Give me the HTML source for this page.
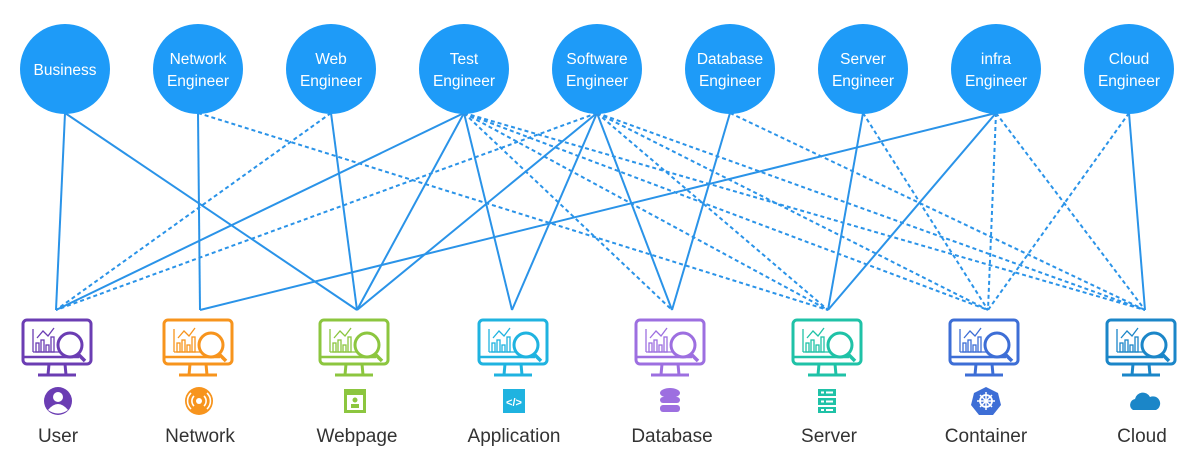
<!DOCTYPE html>
<html><head><meta charset="utf-8"><style>
html,body{margin:0;padding:0;background:#fff;}
svg{display:block;}
text{font-family:"Liberation Sans",sans-serif;}
</style></head><body>
<svg width="1200" height="475" viewBox="0 0 1200 475" xmlns="http://www.w3.org/2000/svg">
<defs>
<g id="mon" fill="none" stroke="currentColor">
  <rect x="-34" y="0" width="68" height="44" rx="4" stroke-width="3"/>
  <line x1="-34" y1="37" x2="22" y2="37" stroke-width="2.5"/>
  <line x1="-8" y1="44" x2="-9" y2="55" stroke-width="3"/>
  <line x1="8" y1="44" x2="9" y2="55" stroke-width="3"/>
  <line x1="-19" y1="55" x2="19" y2="55" stroke-width="3"/>
  <g stroke-width="1.3">
    <line x1="-24" y1="9" x2="-24" y2="32"/>
    <line x1="-24" y1="32" x2="5" y2="32"/>
    <rect x="-21" y="23" width="3" height="9"/>
    <rect x="-16" y="20" width="3" height="12"/>
    <rect x="-11" y="25" width="3" height="7"/>
    <rect x="-6" y="17" width="3" height="15"/>
    <polyline points="-20,18 -14,11 -9,16 -3,8"/>
  </g>
  <circle cx="13" cy="25" r="12" stroke-width="3" fill="#fff"/>
  <line x1="21" y1="34" x2="28" y2="41" stroke-width="3.5"/>
</g>
</defs>

<g stroke="#2a93e8" stroke-width="2" fill="none">
  <!-- solid -->
  <line x1="65" y1="113" x2="56" y2="310"/>
  <line x1="65" y1="113" x2="357" y2="310"/>
  <line x1="198" y1="113" x2="200" y2="310"/>
  <line x1="331" y1="113" x2="357" y2="310"/>
  <line x1="464" y1="113" x2="56" y2="310"/>
  <line x1="464" y1="113" x2="357" y2="310"/>
  <line x1="464" y1="113" x2="512" y2="310"/>
  <line x1="597" y1="113" x2="357" y2="310"/>
  <line x1="597" y1="113" x2="512" y2="310"/>
  <line x1="597" y1="113" x2="672" y2="310"/>
  <line x1="730" y1="113" x2="672" y2="310"/>
  <line x1="863" y1="113" x2="828" y2="310"/>
  <line x1="996" y1="113" x2="200" y2="310"/>
  <line x1="996" y1="113" x2="828" y2="310"/>
  <line x1="1129" y1="113" x2="1145" y2="310"/>
</g>
<g stroke="#2a93e8" stroke-width="2" fill="none" stroke-dasharray="4 3">
  <line x1="198" y1="113" x2="828" y2="310"/>
  <line x1="331" y1="113" x2="56" y2="310"/>
  <line x1="464" y1="113" x2="672" y2="310"/>
  <line x1="464" y1="113" x2="828" y2="310"/>
  <line x1="464" y1="113" x2="988" y2="310"/>
  <line x1="464" y1="113" x2="1145" y2="310"/>
  <line x1="597" y1="113" x2="56" y2="310"/>
  <line x1="597" y1="113" x2="828" y2="310"/>
  <line x1="597" y1="113" x2="988" y2="310"/>
  <line x1="597" y1="113" x2="1145" y2="310"/>
  <line x1="730" y1="113" x2="1145" y2="310"/>
  <line x1="863" y1="113" x2="988" y2="310"/>
  <line x1="996" y1="113" x2="988" y2="310"/>
  <line x1="996" y1="113" x2="1145" y2="310"/>
  <line x1="1129" y1="113" x2="988" y2="310"/>
</g>

<g fill="#1e9bf8">
  <circle cx="65" cy="69" r="45"/><circle cx="198" cy="69" r="45"/><circle cx="331" cy="69" r="45"/>
  <circle cx="464" cy="69" r="45"/><circle cx="597" cy="69" r="45"/><circle cx="730" cy="69" r="45"/>
  <circle cx="863" cy="69" r="45"/><circle cx="996" cy="69" r="45"/><circle cx="1129" cy="69" r="45"/>
</g>
<g fill="#fff" font-size="15.5" text-anchor="middle">
  <text x="65" y="75">Business</text>
  <text x="198" y="64">Network</text><text x="198" y="86">Engineer</text>
  <text x="331" y="64">Web</text><text x="331" y="86">Engineer</text>
  <text x="464" y="64">Test</text><text x="464" y="86">Engineer</text>
  <text x="597" y="64">Software</text><text x="597" y="86">Engineer</text>
  <text x="730" y="64">Database</text><text x="730" y="86">Engineer</text>
  <text x="863" y="64">Server</text><text x="863" y="86">Engineer</text>
  <text x="996" y="64">infra</text><text x="996" y="86">Engineer</text>
  <text x="1129" y="64">Cloud</text><text x="1129" y="86">Engineer</text>
</g>

<use href="#mon" x="57" y="320" style="color:#6b3db3"/>
<use href="#mon" x="198" y="320" style="color:#f7941d"/>
<use href="#mon" x="354" y="320" style="color:#8cc63f"/>
<use href="#mon" x="513" y="320" style="color:#1fb3e0"/>
<use href="#mon" x="670" y="320" style="color:#9d6fe0"/>
<use href="#mon" x="827" y="320" style="color:#1fc2a7"/>
<use href="#mon" x="984" y="320" style="color:#3d6ed6"/>
<use href="#mon" x="1141" y="320" style="color:#1b86c8"/>

<!-- small icons -->
<circle cx="58" cy="401" r="14" fill="#6b3db3"/>
<circle cx="58" cy="397" r="5" fill="#fff"/>
<path d="M48 410 Q58 398 68 410 Q58 417 48 410Z" fill="#fff"/>
<circle cx="199" cy="401" r="14" fill="#f7941d"/>
<circle cx="199" cy="401" r="3" fill="#fff"/>
<g fill="none" stroke="#fff" stroke-width="1.6"><path d="M194 396 a7 7 0 0 0 0 10"/><path d="M204 396 a7 7 0 0 1 0 10"/><path d="M191 393 a11 11 0 0 0 0 16"/><path d="M207 393 a11 11 0 0 1 0 16"/></g>
<rect x="344" y="389" width="22" height="24" fill="#8cc63f"/>
<rect x="347" y="395" width="16" height="15" fill="#fff"/>
<circle cx="355" cy="400" r="2.5" fill="#8cc63f"/><rect x="351" y="404" width="8" height="4" fill="#8cc63f"/>
<rect x="503" y="389" width="22" height="24" fill="#1fb3e0"/>
<text x="514" y="406" fill="#fff" font-size="11" font-weight="bold" text-anchor="middle">&lt;/&gt;</text>
<g fill="#9d6fe0"><ellipse cx="670" cy="393" rx="10" ry="5"/><rect x="660" y="397" width="20" height="6" rx="3"/><rect x="660" y="405" width="20" height="7" rx="3"/></g>
<g fill="#1fc2a7"><rect x="818" y="389" width="18" height="7"/><rect x="818" y="398" width="18" height="7"/><rect x="818" y="407" width="18" height="6"/></g>
<g fill="#fff"><rect x="821" y="391.5" width="3" height="2"/><rect x="826" y="391.5" width="7" height="2"/><rect x="821" y="400.5" width="3" height="2"/><rect x="826" y="400.5" width="7" height="2"/><rect x="821" y="409" width="3" height="2"/><rect x="826" y="409" width="7" height="2"/></g>
<polygon points="986,387 998,393 1001,405 993,415 979,415 971,405 974,393" fill="#3d6ed6"/>
<circle cx="986" cy="401" r="6" fill="none" stroke="#fff" stroke-width="1.8"/>
<g stroke="#fff" stroke-width="1.5"><line x1="986" y1="392" x2="986" y2="410"/><line x1="977" y1="401" x2="995" y2="401"/><line x1="980" y1="395" x2="992" y2="407"/><line x1="992" y1="395" x2="980" y2="407"/></g>
<path d="M1133 410 a6 6 0 0 1 2 -11 a8 8 0 0 1 15 -2 a6 6 0 0 1 6 13 Z" fill="#1b86c8"/>

<g fill="#333" font-size="19" text-anchor="middle">
  <text x="58" y="442">User</text>
  <text x="200" y="442">Network</text>
  <text x="357" y="442">Webpage</text>
  <text x="514" y="442">Application</text>
  <text x="672" y="442">Database</text>
  <text x="829" y="442">Server</text>
  <text x="986" y="442">Container</text>
  <text x="1142" y="442">Cloud</text>
</g>
</svg>
</body></html>
